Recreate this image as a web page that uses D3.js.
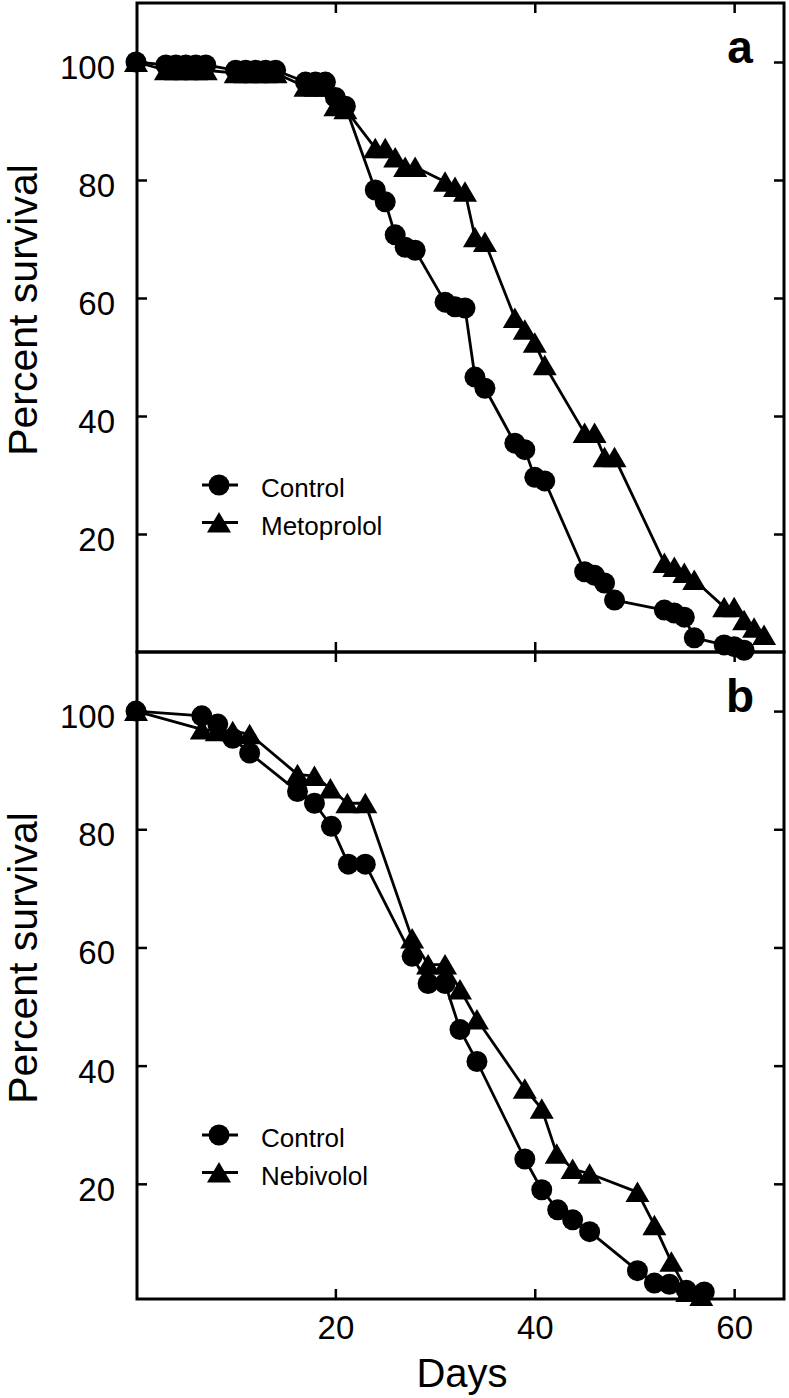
<!DOCTYPE html>
<html><head><meta charset="utf-8">
<script src="https://cdn.jsdelivr.net/npm/d3@7"></script>
<style>body{margin:0;background:#fff}svg{display:block}</style>
</head><body>
<svg id="c" width="789" height="1398"></svg>
<script>
// ---- data ----
const dayTicks = [20, 40, 60];
const pctTicks = [20, 40, 60, 80, 100];

const aControlDays = [0,3,4,5,6,7,10,11,12,13,14,17,18,19,20,21,24,25,26,27,28,31,32,33,34,35,38,39,40,41,45,46,47,48,53,54,55,56,59,60,61];
const aControlPct  = [100,99.5,99.5,99.5,99.5,99.5,98.6,98.6,98.6,98.6,98.6,96.6,96.6,96.6,94,92.5,78.3,76.3,70.7,68.6,68.1,59.3,58.5,58.3,46.6,44.7,35.4,34.3,29.6,29,13.6,13,11.7,8.8,7.1,6.6,5.9,2.4,1.2,0.9,0.3];
const aMetoDays = [0,3,4,5,6,7,10,11,12,13,14,17,18,19,20,21,24,25,26,27,28,31,32,33,34,35,38,39,40,41,45,46,47,48,53,54,55,56,59,60,61,62,63];
const aMetoPct  = [100,98.6,98.6,98.6,98.6,98.6,98.1,98.1,98.1,98.1,98.1,95.8,95.8,95.8,92.5,92,85.4,85.4,83.8,82.2,82.2,79.7,78.8,78,70.3,69.5,56.6,54.6,52.4,48.6,37.1,37.1,33,33,15.1,14.4,13.4,12.2,7.6,7.6,5.4,4.1,2.9];

const bControlDays = [0,6.6,8.2,9.7,11.4,16.2,17.9,19.6,21.3,23,27.7,29.3,31,32.5,34.2,39,40.7,42.3,43.8,45.5,50.3,52,53.5,55.2,57];
const bControlPct  = [100,99.2,97.8,95.4,92.9,86.4,84.4,80.5,74.1,74.1,58.5,53.9,53.9,46.1,40.7,24.2,19,15.6,13.9,11.9,5.3,3.2,3.0,2.0,1.7];
const bNebiDays = [0,6.6,8.1,9.7,11.4,16.2,17.9,19.5,21.2,23,27.7,29.3,31,32.5,34.2,39,40.7,42.2,43.8,45.5,50.3,52,53.7,55.3,56.7];
const bNebiPct  = [100,96.9,96.6,96.6,96.1,89.3,89,86.9,84.4,84.4,61.5,57.1,57.1,52.9,47.8,36.1,32.7,25.1,22.5,21.7,18.6,13,6.8,1.7,1.0];

const panelLetters = ["a", "b"];
const seriesNames = [["Control", "Metoprolol"], ["Control", "Nebivolol"]];
const yTitle = "Percent survival";
const xTitle = "Days";

// ---- drawing ----
const svg = d3.select("#c");
const FONT = "'Liberation Sans', Arial, Helvetica, sans-serif";
const x = d3.scaleLinear().domain([0, 65]).range([136, 784]);
const L = 137, R = 784;

const triPath = "M0,-10.5L12,10L-12,10Z";

const panels = [
  {top: 3, bottom: 652, y: d3.scaleLinear().domain([0,110]).range([652,3]),
   series: [d3.zip(aControlDays, aControlPct), d3.zip(aMetoDays, aMetoPct)],
   legendY: 485, titleY: 310, letterY: 63, xLabels: false},
  {top: 652, bottom: 1299, y: d3.scaleLinear().domain([0,110]).range([1302,652]),
   series: [d3.zip(bControlDays, bControlPct), d3.zip(bNebiDays, bNebiPct)],
   legendY: 1135, titleY: 958, letterY: 712, xLabels: true}
];

panels.forEach((p, pi) => {
  const g = svg.append("g");
  const y = p.y;
  const TL = 10;

  const la = g.append("g").attr("transform", `translate(${L},0)`)
    .call(d3.axisLeft(y).tickValues(pctTicks).tickSize(-TL).tickPadding(22));
  la.select(".domain").remove();
  la.selectAll(".tick line").attr("stroke", "#000").attr("stroke-width", 2.5);
  la.selectAll(".tick text").attr("font-family", FONT).attr("font-size", 33)
    .attr("fill", "#000").attr("dy", "0.5em");

  const ra = g.append("g").attr("transform", `translate(${R},0)`)
    .call(d3.axisRight(y).tickValues(pctTicks).tickSize(-TL).tickFormat(""));
  ra.select(".domain").remove();
  ra.selectAll(".tick line").attr("stroke", "#000").attr("stroke-width", 2.5);

  const ta = g.append("g").attr("transform", `translate(0,${p.top})`)
    .call(d3.axisTop(x).tickValues(dayTicks).tickSize(-TL).tickFormat(""));
  ta.select(".domain").remove();
  ta.selectAll(".tick line").attr("stroke", "#000").attr("stroke-width", 2.5);

  const ba = g.append("g").attr("transform", `translate(0,${p.bottom})`)
    .call(d3.axisBottom(x).tickValues(dayTicks).tickSize(-TL).tickPadding(17)
      .tickFormat(p.xLabels ? d3.format("d") : ""));
  ba.select(".domain").remove();
  ba.selectAll(".tick line").attr("stroke", "#000").attr("stroke-width", 2.5);
  ba.selectAll(".tick text").attr("font-family", FONT).attr("font-size", 33).attr("fill", "#000");

  g.append("rect").attr("x", L).attr("y", p.top).attr("width", R - L)
    .attr("height", p.bottom - p.top).attr("fill", "none")
    .attr("stroke", "#000").attr("stroke-width", 3);

  const line = d3.line().x(d => x(d[0])).y(d => y(d[1]));
  p.series.forEach((s) => {
    g.append("path").datum(s).attr("d", line).attr("fill", "none")
      .attr("stroke", "#000").attr("stroke-width", 2.8).attr("stroke-linejoin", "round");
  });
  p.series.forEach((s, si) => {
    const mg = g.append("g");
    if (si === 0) {
      mg.selectAll("circle").data(s).join("circle")
        .attr("cx", d => x(d[0])).attr("cy", d => y(d[1])).attr("r", 10.5).attr("fill", "#000");
    } else {
      mg.selectAll("path").data(s).join("path").attr("d", triPath)
        .attr("transform", d => `translate(${x(d[0])},${y(d[1])})`).attr("fill", "#000");
    }
  });

  const lg = g.append("g");
  seriesNames[pi].forEach((name, si) => {
    const ly = p.legendY + si * 37.5;
    lg.append("line").attr("x1", 202).attr("x2", 238).attr("y1", ly).attr("y2", ly)
      .attr("stroke", "#000").attr("stroke-width", 2.8);
    if (si === 0) lg.append("circle").attr("cx", 219).attr("cy", ly).attr("r", 10.5).attr("fill", "#000");
    else lg.append("path").attr("d", triPath).attr("transform", `translate(219,${ly})`).attr("fill", "#000");
    lg.append("text").attr("x", 261).attr("y", ly + 12).attr("font-family", FONT)
      .attr("font-size", 26).attr("fill", "#000").text(name);
  });

  g.append("text").attr("x", 740).attr("y", p.letterY).attr("text-anchor", "middle")
    .attr("font-family", FONT).attr("font-weight", "bold").attr("font-size", 46)
    .attr("fill", "#000").text(panelLetters[pi]);

  g.append("text").attr("transform", `translate(37,${p.titleY}) rotate(-90)`)
    .attr("text-anchor", "middle").attr("font-family", FONT).attr("font-size", 41)
    .attr("fill", "#000").text(yTitle);
});

svg.append("text").attr("x", 462).attr("y", 1387).attr("text-anchor", "middle")
  .attr("font-family", FONT).attr("font-size", 40).attr("fill", "#000").text(xTitle);
</script>
</body></html>
